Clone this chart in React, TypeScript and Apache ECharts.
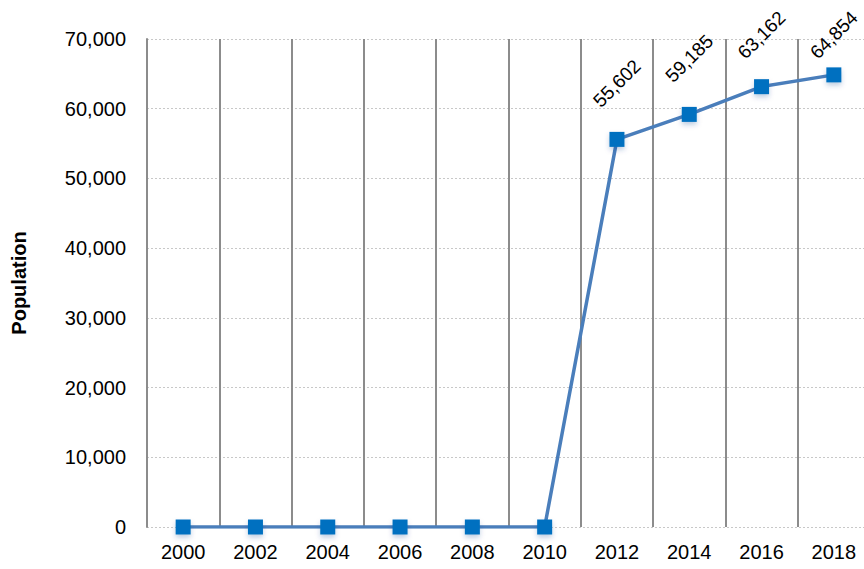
import React, { useEffect, useRef } from "react";
import * as echarts from "echarts";

const years = ["2000", "2002", "2004", "2006", "2008", "2010", "2012", "2014", "2016", "2018"];
const population = [0, 0, 0, 0, 0, 0, 55602, 59185, 63162, 64854];
const labelFrom = 6;
const yTicks = { min: 0, max: 70000, interval: 10000 };

export default function App() {
  const ref = useRef<HTMLDivElement>(null);
  useEffect(() => {
    const chart = echarts.init(ref.current!, null, { renderer: "svg" });
    const font = "'Liberation Sans', Arial, sans-serif";
    const fmt = (v: number) => v.toLocaleString("en-US");
    const buildData = (offsets: number[][]) =>
      population.map((v, i) => ({
        value: v,
        label: {
          show: i >= labelFrom,
          formatter: () => fmt(v),
          offset: offsets[i],
        },
      }));
    chart.setOption({
      animation: false,
      backgroundColor: "#ffffff",
      grid: { left: 147, top: 39, width: 723, height: 488, containLabel: false },
      xAxis: {
        type: "category",
        data: years,
        boundaryGap: true,
        axisLine: { show: false },
        axisTick: { show: false },
        axisLabel: { color: "#000", fontSize: 20, fontFamily: font, margin: 15 },
        splitLine: { show: true, lineStyle: { color: "#8c8c8c", width: 2 } },
      },
      yAxis: {
        type: "value",
        min: yTicks.min,
        max: yTicks.max,
        interval: yTicks.interval,
        name: "Population",
        nameLocation: "middle",
        nameGap: 118,
        nameRotate: 90,
        nameTextStyle: { color: "#000", fontSize: 20, fontWeight: "bold", fontFamily: font },
        axisLine: { show: true, lineStyle: { color: "#8c8c8c", width: 2 } },
        axisTick: { show: false },
        axisLabel: { color: "#000", fontSize: 20, fontFamily: font, margin: 21, formatter: fmt },
        splitLine: { show: true, lineStyle: { color: "#c8c8c8", width: 1, type: [2, 2] } },
      },
      series: [
        {
          type: "line",
          data: buildData(population.map(() => [33, -33])),
          symbol: "rect",
          symbolSize: 15,
          showAllSymbol: true,
          lineStyle: { color: "#4a7ebb", width: 3.5 },
          itemStyle: {
            color: "#0070c0",
            shadowBlur: 5,
            shadowColor: "rgba(0,60,140,0.25)",
            shadowOffsetY: 3,
          },
          label: {
            position: "top",
            rotate: 45,
            distance: 0,
            align: "center",
            verticalAlign: "middle",
            color: "#000",
            fontSize: 19,
            fontFamily: font,
          },
        },
      ],
    });
    // keep labels 56px above their point, but inside the top of the chart
    const offsets = population.map((v, i) => {
      const p = chart.convertToPixel({ seriesIndex: 0 }, [i, v]) as number[];
      const center = Math.max(p[1] - 56, 35);
      const s = p[1] - 7.5 - center;
      const d = s / Math.SQRT2;
      return [d, -d];
    });
    chart.setOption({ series: [{ data: buildData(offsets) }] });
    return () => chart.dispose();
  }, []);
  return (
    <div style={{ width: 864, height: 569, position: "absolute", left: 0, top: 0, overflow: "hidden" }}>
      <div ref={ref} style={{ width: 880, height: 569 }} />
    </div>
  );
}
